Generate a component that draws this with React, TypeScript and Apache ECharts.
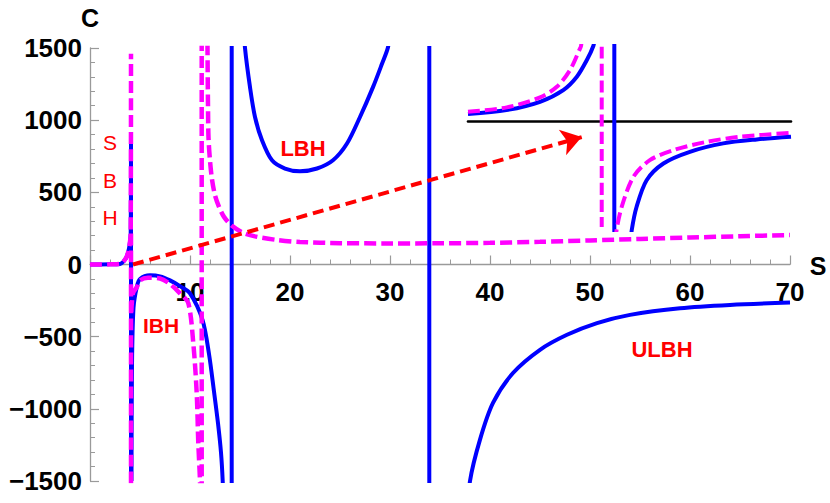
import React, { useEffect, useRef } from 'react';
import * as echarts from 'echarts';

// ---------- main plot data (S, C) ----------
// blue (solid) curve branches
const blueSbhS = [0, 1, 2, 3, 3.33, 3.67, 3.93, 4.07, 4.1];
const blueSbhC = [0, 0, 1, 4, 19, 54, 123, 215, 909];
const blueIbhS = [4.15, 4.2, 4.35, 4.7, 5, 6, 7, 8, 9, 10, 11.25, 11.9, 12.4, 12.8, 13.1, 13.27, 13.32];
const blueIbhC = [-1500, -700, -300, -150, -100, -75, -82, -110, -150, -200, -384, -620, -880, -1100, -1303, -1500, -1650];
const blueLbhS = [15.4, 15.5, 16, 16.5, 17.2, 18.2, 19.5, 21, 22.7, 24.3, 25.7, 27, 28.3, 29.2, 29.8, 29.9];
const blueLbhC = [1650, 1500, 1229, 1022, 861, 722, 665, 646, 665, 722, 838, 1022, 1229, 1391, 1505, 1600];
const blueUlbhS = [37.9, 38, 39, 40.3, 42.3, 45, 47.7, 50.7, 54, 59, 64, 70];
const blueUlbhC = [-1650, -1500, -1213, -959, -752, -591, -487, -406, -349, -303, -280, -264];
// vertical jumps: [S, C from, C to]
const blueJumps = [
  [4.1, 909, -5000],
  [14.17, -5000, 5000],
  [33.93, 5000, -5000],
];

// magenta (dashed) curve branches
const magSbhS = [0, 1, 2, 3, 3.33, 3.67, 3.93, 4.07, 4.1];
const magSbhC = [0, 0, 1, 4, 19, 54, 123, 215, 1460];
const magIbhS = [4.13, 4.3, 4.7, 5, 5.8, 7, 8, 9, 9.83, 10.33, 10.67, 10.83, 11.0, 11.03];
const magIbhC = [-330, -200, -155, -110, -92, -97, -135, -200, -268, -545, -890, -1236, -1500, -1650];
const magRightS = [11.74, 11.75, 11.8, 11.85, 12.0, 12.2, 12.5, 12.9, 13.4, 14.2, 15.3, 16.5, 18.7, 21, 25, 30, 35, 40, 45, 50, 55, 60, 65, 70];
const magRightC = [1650, 1500, 1100, 880, 720, 590, 480, 400, 330, 268, 220, 195, 170, 156, 148, 146, 147, 150, 157, 167, 177, 187, 196, 204];
const magJumps = [
  [4.1, 215, -1650],
  [11.17, -5000, 5000],
];

// red dashed arrow (S, C)
const arrowStart = [4.3, 0];
const arrowEnd = [49.17, 883];

// ---------- inset data (magnified units) ----------
const inBlueLeftX = [0, 1.19, 2.23, 2.95, 3.37, 3.68, 3.88, 3.92];
const inBlueLeftY = [0.093, 0.147, 0.257, 0.413, 0.591, 0.813, 1.0, 1.1];
const inBlueRightX = [5.05, 5.07, 5.22, 5.53, 6.05, 6.87, 7.9, 8.94, 10];
const inBlueRightY = [-1.6, -1.45, -1.14, -0.787, -0.564, -0.409, -0.297, -0.244, -0.209];
const inBlueJump = [4.53, 10, -10];
const inMagLeftX = [0, 1.2, 2.23, 2.75, 3.16, 3.47, 3.5, 3.52];
const inMagLeftY = [0.124, 0.183, 0.316, 0.457, 0.68, 0.969, 1.0, 1.1];
const inMagRightX = [4.58, 4.6, 4.76, 5.12, 5.63, 6.36, 7.39, 8.42, 10];
const inMagRightY = [-1.6, -1.45, -1.14, -0.743, -0.52, -0.387, -0.276, -0.209, -0.156];
const inMagJump = [4.14, 0.99, -1.41];

// axes
const xTicks = [0, 10, 20, 30, 40, 50, 60, 70];
const yTicks = [-1500, -1000, -500, 0, 500, 1000, 1500];

const FONT = '"Liberation Sans", Arial, Helvetica, sans-serif';
const BLUE = '#0000ff';
const MAG = '#ff00ff';
const RED = '#ff0000';

function pairs(s: number[], c: number[]) {
  return s.map((x, i) => [x, c[i]]);
}
function jumpSeg(j: number[]) {
  return [[j[0], j[1]], [j[0], j[2]]];
}
function joinSegs(segs: any[][]) {
  const out: any[] = [];
  segs.forEach((seg, i) => {
    if (i > 0) out.push([seg[0][0], '-']);
    seg.forEach((p) => out.push(p));
  });
  return out;
}

// main grid geometry (pixels)
const GRID_LEFT = 90;
const GRID_TOP = 48;
const GRID_W = 700;
const GRID_H = 433;

export default function App() {
  const ref = useRef<HTMLDivElement>(null);
  useEffect(() => {
    if (!ref.current) return;
    const chart = echarts.init(ref.current, undefined, { renderer: 'svg' });

    const blueData = joinSegs([
      pairs(blueSbhS, blueSbhC),
      jumpSeg(blueJumps[0]),
      pairs(blueIbhS, blueIbhC),
      jumpSeg(blueJumps[1]),
      pairs(blueLbhS, blueLbhC),
      jumpSeg(blueJumps[2]),
      pairs(blueUlbhS, blueUlbhC),
    ]);
    const magData = joinSegs([
      pairs(magSbhS, magSbhC),
      jumpSeg(magJumps[0]),
      pairs(magIbhS, magIbhC),
      jumpSeg(magJumps[1]),
      pairs(magRightS, magRightC),
    ]);
    const inBlue = joinSegs([
      pairs(inBlueLeftX, inBlueLeftY),
      jumpSeg(inBlueJump),
      pairs(inBlueRightX, inBlueRightY),
    ]);
    const inMag = joinSegs([
      pairs(inMagLeftX, inMagLeftY),
      jumpSeg(inMagJump),
      pairs(inMagRightX, inMagRightY),
    ]);

    const yMin = yTicks[0];
    const yMax = yTicks[yTicks.length - 1];
    // height of the upper half of the main grid (from top down to C = 0)
    const zeroH = (GRID_H * yMax) / (yMax - yMin);

    const axisGray = '#9a9a9a';
    const labelStyle = {
      fontFamily: FONT,
      fontWeight: 'bold' as const,
      fontSize: 26,
      color: '#000',
    };

    const textEl = (text: string, x: number, y: number, size: number, bold: boolean, color: string) => ({
      type: 'text',
      x,
      y,
      silent: true,
      style: {
        text,
        fill: color,
        font: `${bold ? 'bold ' : ''}${size}px ${FONT}`,
        align: 'center',
        verticalAlign: 'middle',
      },
    });

    chart.setOption({
      animation: false,
      backgroundColor: '#ffffff',
      grid: [
        { left: GRID_LEFT, top: GRID_TOP, width: GRID_W, height: GRID_H, containLabel: false, outerBoundsMode: 'none' },
        { left: 468, top: 46, width: 323, height: 184, containLabel: false, outerBoundsMode: 'none' },
        { left: GRID_LEFT, top: GRID_TOP, width: GRID_W, height: zeroH, containLabel: false, outerBoundsMode: 'none' },
      ],
      xAxis: [
        {
          type: 'value',
          gridIndex: 0,
          min: xTicks[0],
          max: xTicks[xTicks.length - 1],
          interval: 10,
          axisLine: { show: true, onZero: true, lineStyle: { color: axisGray, width: 1.3 } },
          axisTick: { show: true, inside: true, length: 9, lineStyle: { color: axisGray, width: 1.2 } },
          minorTick: { show: true, splitNumber: 5, length: 5, lineStyle: { color: axisGray, width: 1 } },
          splitLine: { show: false },
          axisLabel: { show: false },
        },
        {
          type: 'value',
          gridIndex: 1,
          min: 0,
          max: 10,
          axisLine: { show: true, onZero: true, lineStyle: { color: '#000', width: 2.6 } },
          axisTick: { show: false },
          axisLabel: { show: false },
          splitLine: { show: false },
        },
        {
          // tick labels of the S axis, sitting under the C = 0 line
          type: 'value',
          gridIndex: 2,
          position: 'bottom',
          min: xTicks[0],
          max: xTicks[xTicks.length - 1],
          interval: 10,
          axisLine: { show: false, onZero: false },
          axisTick: { show: false },
          splitLine: { show: false },
          axisLabel: {
            ...labelStyle,
            margin: 14,
            formatter: (v: number) => (v === 0 ? '' : String(v)),
          },
        },
      ],
      yAxis: [
        {
          type: 'value',
          gridIndex: 0,
          min: yMin,
          max: yMax,
          interval: 500,
          axisLine: { show: true, lineStyle: { color: axisGray, width: 1.3 } },
          axisTick: { show: true, inside: true, length: 9, lineStyle: { color: axisGray, width: 1.2 } },
          minorTick: { show: true, splitNumber: 5, length: 5, lineStyle: { color: axisGray, width: 1 } },
          splitLine: { show: false },
          axisLabel: {
            ...labelStyle,
            margin: 8,
            formatter: (v: number) => (v < 0 ? '\u2212' + Math.abs(v) : String(v)),
          },
        },
        {
          type: 'value',
          gridIndex: 1,
          min: -1.45,
          max: 1.0,
          show: false,
          axisLine: { show: false },
          splitLine: { show: false },
        },
        {
          type: 'value',
          gridIndex: 2,
          min: 0,
          max: 1,
          show: false,
          axisLine: { show: false },
          splitLine: { show: false },
        },
      ],
      series: [
        {
          name: 'arrow',
          type: 'line',
          xAxisIndex: 0,
          yAxisIndex: 0,
          data: [arrowStart, arrowEnd],
          showSymbol: false,
          lineStyle: { opacity: 0 },
          silent: true,
          z: 1,
          markLine: {
            silent: true,
            symbol: ['none', 'arrow'],
            symbolSize: 20,
            label: { show: false },
            lineStyle: { color: RED, width: 4, type: [11, 6] },
            emphasis: { disabled: true },
            data: [[{ coord: arrowStart }, { coord: arrowEnd }]],
          },
        },
        {
          name: 'blue',
          type: 'line',
          xAxisIndex: 0,
          yAxisIndex: 0,
          data: blueData,
          showSymbol: false,
          smooth: 0.3,
          connectNulls: false,
          clip: true,
          silent: true,
          z: 2,
          lineStyle: { color: BLUE, width: 4 },
        },
        {
          name: 'magenta',
          type: 'line',
          xAxisIndex: 0,
          yAxisIndex: 0,
          data: magData,
          showSymbol: false,
          smooth: 0.3,
          connectNulls: false,
          clip: true,
          silent: true,
          z: 3,
          lineStyle: { color: MAG, width: 4.5, type: [12, 5] },
        },
        {
          name: 'insetBlue',
          type: 'line',
          xAxisIndex: 1,
          yAxisIndex: 1,
          data: inBlue,
          showSymbol: false,
          smooth: 0.3,
          connectNulls: false,
          clip: true,
          silent: true,
          z: 2,
          lineStyle: { color: BLUE, width: 4 },
        },
        {
          name: 'insetMagenta',
          type: 'line',
          xAxisIndex: 1,
          yAxisIndex: 1,
          data: inMag,
          showSymbol: false,
          smooth: 0.3,
          connectNulls: false,
          clip: true,
          silent: true,
          z: 3,
          lineStyle: { color: MAG, width: 4, type: [12, 5] },
        },
      ],
      graphic: [
        textEl('C', 90, 18, 25, true, '#000'),
        textEl('S', 818, 266, 25, true, '#000'),
        textEl('S', 110, 142, 21, false, RED),
        textEl('B', 110, 180, 21, false, RED),
        textEl('H', 110, 217, 21, false, RED),
        textEl('IBH', 161, 325, 21, true, RED),
        textEl('LBH', 303, 148, 22, true, RED),
        textEl('ULBH', 662, 349, 22, true, RED),
      ],
    });

    return () => chart.dispose();
  }, []);

  return (
    <div
      ref={ref}
      style={{ position: 'absolute', left: 0, top: 0, width: 830, height: 503, background: '#fff' }}
    />
  );
}
